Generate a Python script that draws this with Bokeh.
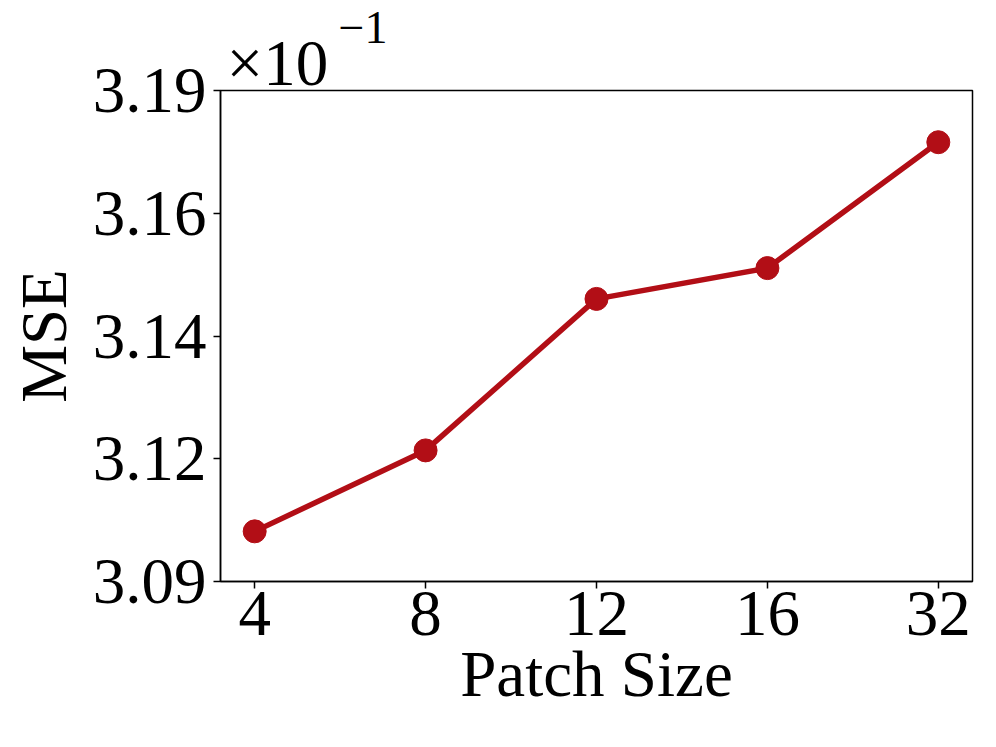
from bokeh.plotting import figure
from bokeh.models import FixedTicker, CustomJSTickFormatter, Title, Range1d
from bokeh.embed import file_html
from bokeh.resources import INLINE

# ---- data ----
patch_labels = ["4", "8", "12", "16", "32"]
x_index = [0, 1, 2, 3, 4]
mse_values = [3.1021, 3.1176, 3.1466, 3.1525, 3.1766]

y_tick_values = [3.0925, 3.116, 3.1395, 3.163, 3.1865]
y_tick_labels = ["3.09", "3.12", "3.14", "3.16", "3.19"]

offset_base = "×10"
offset_exp = "−1"

FONT = "Liberation Serif"
FS = "65px"
RED = "#B20E16"

p = figure(width=988, height=739, output_backend="svg", toolbar_location=None,
           x_range=Range1d(-0.2, 4.2), y_range=Range1d(y_tick_values[0], y_tick_values[-1]),
           min_border_left=220, min_border_right=16, min_border_top=90,
           min_border_bottom=158)

p.line(x_index, mse_values, line_color=RED, line_width=5.5)
p.scatter(x_index, mse_values, size=23, fill_color=RED, line_color=RED)

p.xgrid.visible = False
p.ygrid.visible = False
p.outline_line_color = "black"
p.outline_line_width = 1.5
p.outline_line_alpha = 1.0
p.background_fill_color = "white"
p.border_fill_color = "white"

p.xaxis.ticker = FixedTicker(ticks=x_index)
p.xaxis.formatter = CustomJSTickFormatter(args=dict(labels=patch_labels),
                                          code="return labels[Math.round(tick)];")
p.yaxis.ticker = FixedTicker(ticks=y_tick_values)
p.yaxis.formatter = CustomJSTickFormatter(
    args=dict(vals=y_tick_values, labels=y_tick_labels),
    code="""
let best = 0;
for (let i = 0; i < vals.length; i++) {
  if (Math.abs(vals[i] - tick) < Math.abs(vals[best] - tick)) best = i;
}
return labels[best];
""")

for ax in (p.xaxis[0], p.yaxis[0]):
    ax.major_label_text_font = FONT
    ax.major_label_text_font_size = FS
    ax.major_label_text_color = "black"
    ax.axis_label_text_font = FONT
    ax.axis_label_text_font_size = FS
    ax.axis_label_text_font_style = "normal"
    ax.axis_label_text_color = "black"
    ax.axis_line_color = "black"
    ax.axis_line_width = 1.5
    ax.major_tick_line_color = "black"
    ax.major_tick_line_width = 1.5
    ax.major_tick_out = 7
    ax.major_tick_in = 0
    ax.minor_tick_line_color = None

p.xaxis.axis_label = "Patch Size"
p.yaxis.axis_label = "MSE"
p.xaxis.major_label_standoff = 3
p.yaxis.major_label_standoff = 7
p.xaxis.axis_label_standoff = 0
p.yaxis.axis_label_standoff = 10

# offset text  ×10^-1  (titles stacked above the frame; first added is nearest)
p.add_layout(Title(text=offset_base, align="left", offset=6, vertical_align="bottom",
                   standoff=-16, text_font=FONT, text_font_size=FS,
                   text_font_style="normal", text_color="black"), "above")
p.add_layout(Title(text=offset_exp, align="left", offset=118, vertical_align="bottom",
                   standoff=-20, text_font=FONT, text_font_size="46px",
                   text_font_style="normal", text_color="black"), "above")

open("out.html", "w").write(file_html(p, INLINE))
